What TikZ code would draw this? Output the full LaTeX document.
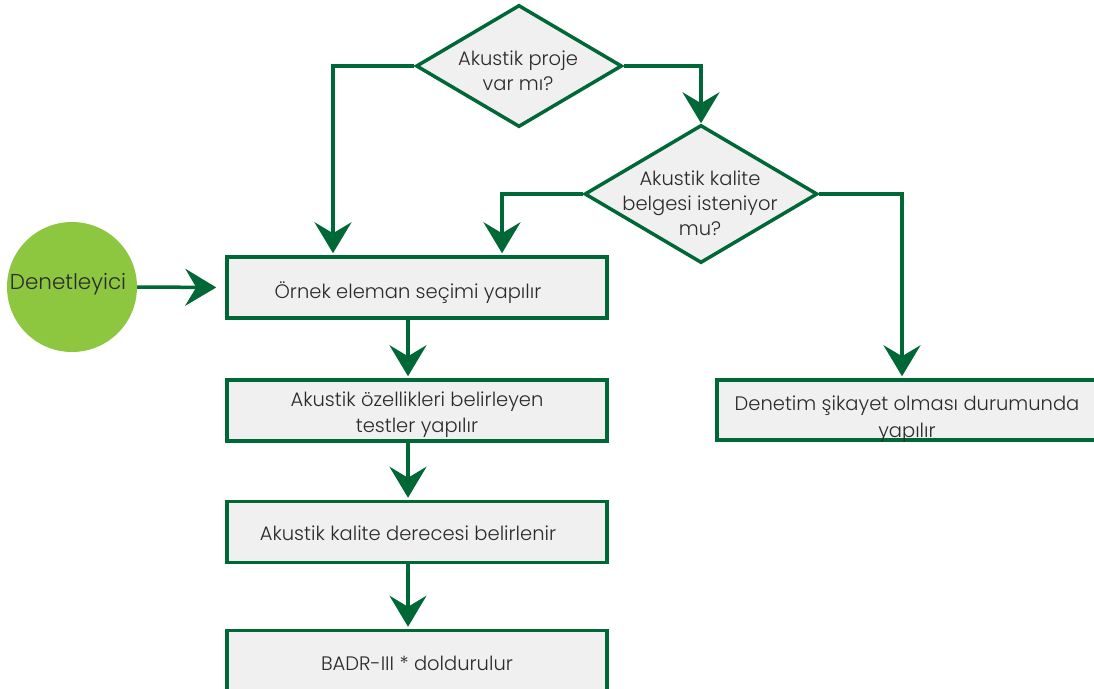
\documentclass[tikz,border=0pt]{standalone}
\usepackage{fontspec}
\setmainfont{Poppins Light}
\usetikzlibrary{arrows.meta,shapes.geometric}
\definecolor{flowgreen}{HTML}{006837}
\definecolor{boxfill}{HTML}{F0F0F0}
\definecolor{leaf}{HTML}{8DC63F}
\definecolor{ink}{HTML}{2B2B2B}
\begin{document}
\begin{tikzpicture}[x=1pt,y=-1pt,
  txt/.style={text=ink, font=\fontsize{19.5}{25}\selectfont, align=center, inner sep=0pt},
  stepbox/.style={draw=flowgreen, line width=3.5pt, fill=boxfill,
                  minimum width=380pt, minimum height=61pt, inner sep=0pt},
  decision/.style={diamond, draw=flowgreen, line width=3.5pt, fill=boxfill, inner sep=0pt},
  flow/.style={draw=flowgreen, line width=3.5pt,
               -{Stealth[length=31pt,width=37pt,inset=11pt]}}]
\useasboundingbox (0,0) rectangle (1094,688);
\clip (0,0) rectangle (1094,688);

% decisions
\node[decision, minimum width=206pt, minimum height=122pt] (d1) at (519,66) {};
\node[txt] (d1t) at (518,71) {Akustik proje\\var mı?};
\node[decision, minimum width=233pt, minimum height=138pt] (d2) at (701,194) {};
\node[txt] (d2t) at (700,203) {Akustik kalite\\belgesi isteniyor\\mu?};

% inspector
\node[circle, fill=leaf, minimum size=130pt, inner sep=0pt] (c) at (72,287) {};
\node[txt, font=\fontsize{21.5}{25}\selectfont] (ct) at (68,284) {Denetleyici};

% process steps
\node[stepbox] (b1) at (417,287.5) {};
\node[txt] (b1t) at (408,293) {Örnek eleman seçimi yapılır};
\node[stepbox] (b2) at (417,410.5) {};
\node[txt, font=\fontsize{19.5}{26}\selectfont] (b2t) at (417,414.5) {Akustik özellikleri belirleyen\\testler yapılır};
\node[stepbox] (b3) at (417,532) {};
\node[txt] (b3t) at (408,533) {Akustik kalite derecesi belirlenir};
\node[stepbox] (b4) at (417,661) {};
\node[txt] (b4t) at (417,663) {BADR-III * doldurulur};
\node[stepbox, minimum width=383pt, minimum height=60pt] (rb) at (908.5,410) {};
\node[txt, font=\fontsize{19.5}{27}\selectfont] (rbt) at (907,419) {Denetim şikayet olması durumunda\\yapılır};

% connectors
\draw[flow] (d1.west) -| ([xshift=-84pt,yshift=2pt]b1.north);
\draw[flow] (d1.east) -| (d2.north);
\draw[flow] (d2.west) -| ([xshift=85pt,yshift=2pt]b1.north);
\draw[flow] (d2.east) -| ([xshift=-6.5pt,yshift=2pt]rb.north);
\draw[flow, shorten >=9pt] (c.east) -- (b1.west);
\draw[flow] ([xshift=-9pt]b1.south) -- ([xshift=-9pt,yshift=2pt]b2.north);
\draw[flow] ([xshift=-9pt]b2.south) -- ([xshift=-9pt,yshift=2pt]b3.north);
\draw[flow] ([xshift=-9pt]b3.south) -- ([xshift=-9pt,yshift=2pt]b4.north);
\end{tikzpicture}
\end{document}
